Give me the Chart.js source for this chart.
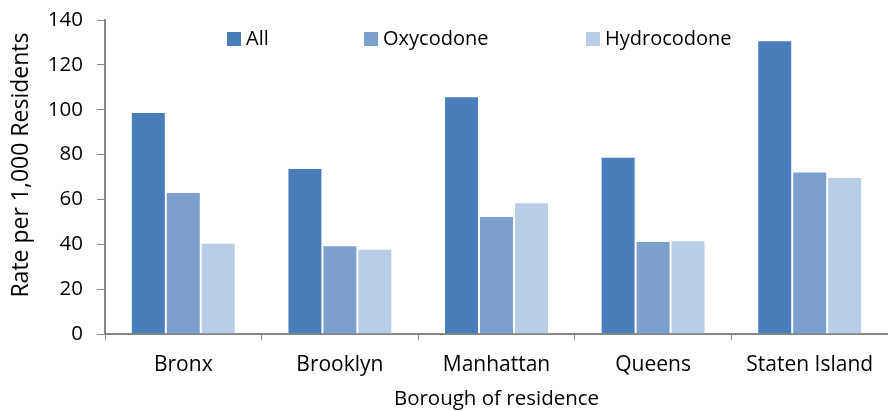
<!DOCTYPE html>
<html lang="en">
<head>
    <meta charset="UTF-8">
    <title>Rate per 1,000 Residents by Borough</title>
    <script src="https://cdn.jsdelivr.net/npm/chart.js"></script>
    <style>
        body, html {
            margin: 0;
            padding: 0;
            background: #ffffff;
        }
        .chart-box {
            width: 888px;
            height: 411px;
        }
    </style>
</head>
<body>
    <div class="chart-box">
        <canvas id="boroughChart" width="888" height="411"></canvas>
    </div>

    <script>
        const boroughs = ['Bronx', 'Brooklyn', 'Manhattan', 'Queens', 'Staten Island'];
        const allRates = [99, 74, 106, 79, 131];
        const oxyRates = [63.3, 39.6, 52.6, 41.5, 72.5];
        const hydroRates = [40.7, 38.0, 58.7, 41.8, 70];
        const yTicks = [0, 20, 40, 60, 80, 100, 120, 140];

        const fontFamily = "'Open Sans', sans-serif";
        const axisGray = '#868686';

        // legend sits inside the plot like the original, so draw it by hand
        const insideLegend = {
            id: 'insideLegend',
            afterDraw(chart) {
                const ctx = chart.ctx;
                const spots = [227, 364, 586];
                ctx.save();
                ctx.font = '20px ' + fontFamily;
                ctx.textBaseline = 'middle';
                chart.data.datasets.forEach((ds, i) => {
                    ctx.fillStyle = ds.backgroundColor;
                    ctx.fillRect(spots[i], 32, 14, 14);
                    ctx.fillStyle = '#000000';
                    ctx.fillText(ds.label, spots[i] + 19, 39);
                });
                ctx.restore();
            }
        };

        const ctx = document.getElementById('boroughChart').getContext('2d');
        new Chart(ctx, {
            type: 'bar',
            data: {
                labels: boroughs,
                datasets: [
                    { label: 'All', data: allRates, backgroundColor: '#4a7ebb' },
                    { label: 'Oxycodone', data: oxyRates, backgroundColor: '#7ba0cd' },
                    { label: 'Hydrocodone', data: hydroRates, backgroundColor: '#b9cde5' }
                ]
            },
            options: {
                responsive: false,
                animation: false,
                layout: { padding: { top: 20, right: 0, left: 0, bottom: 0 } },
                datasets: {
                    bar: {
                        categoryPercentage: 0.67,
                        barPercentage: 1.0,
                        borderWidth: 1,
                        borderColor: 'rgba(255,255,255,0.6)',
                        borderSkipped: 'bottom'
                    }
                },
                plugins: {
                    legend: { display: false },
                    tooltip: { enabled: false }
                },
                scales: {
                    x: {
                        grid: {
                            offset: true,
                            drawOnChartArea: false,
                            drawTicks: true,
                            tickLength: 6,
                            color: axisGray
                        },
                        border: { color: axisGray, width: 2 },
                        ticks: {
                            color: '#000000',
                            padding: 12,
                            font: { family: fontFamily, size: 21 },
                            maxRotation: 0
                        },
                        title: {
                            display: true,
                            text: 'Borough of residence',
                            color: '#000000',
                            font: { family: fontFamily, size: 20.5 },
                            padding: { top: 0, bottom: 0 }
                        },
                        afterFit(scale) { scale.height = 77; }
                    },
                    y: {
                        min: 0,
                        max: 140,
                        afterBuildTicks(scale) {
                            scale.ticks = yTicks.map(v => ({ value: v }));
                        },
                        grid: {
                            drawOnChartArea: false,
                            drawTicks: true,
                            tickLength: 8,
                            color: axisGray
                        },
                        border: { color: axisGray, width: 2 },
                        ticks: {
                            color: '#000000',
                            padding: 14,
                            font: { family: fontFamily, size: 20.5 }
                        },
                        title: {
                            display: true,
                            // leading spaces nudge the rotated title up, as in the original
                            text: '\u00a0\u00a0\u00a0\u00a0Rate per 1,000 Residents',
                            color: '#000000',
                            font: { family: fontFamily, size: 23 },
                            padding: { top: 8, bottom: 0 }
                        },
                        afterFit(scale) {
                            scale.width = 105;
                            scale.paddingTop = 0;
                            scale.paddingBottom = 0;
                        }
                    }
                }
            },
            plugins: [insideLegend]
        });
    </script>
</body>
</html>
